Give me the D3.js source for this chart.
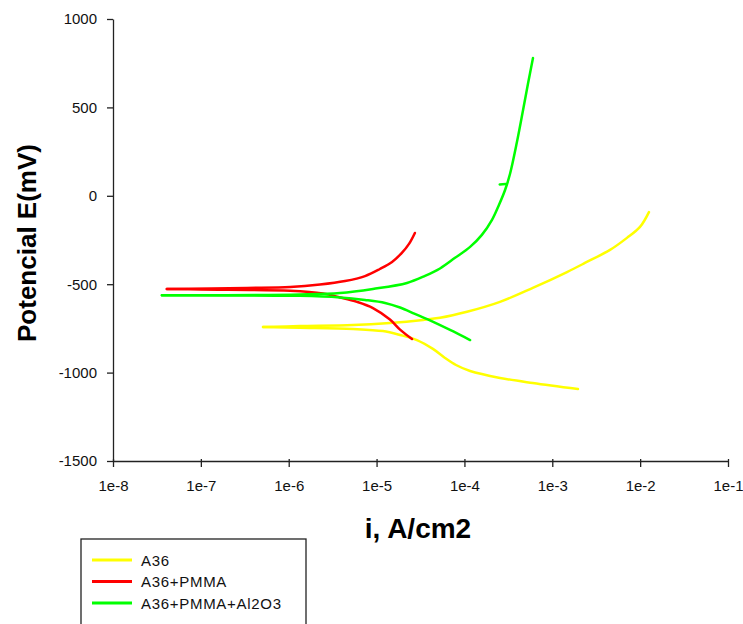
<!DOCTYPE html>
<html>
<head>
<meta charset="utf-8">
<script src="https://cdn.jsdelivr.net/npm/d3@7"></script>
<style>
  html, body { margin: 0; padding: 0; background: #fff; }
  svg { display: block; }
  text { font-family: "Liberation Sans", Arial, sans-serif; }
</style>
</head>
<body>
<svg id="chart" width="743" height="624"></svg>
<script>
// ---- data (current density in A/cm2, potential in mV) ----
const xTicks = [1e-8, 1e-7, 1e-6, 1e-5, 1e-4, 1e-3, 1e-2, 1e-1];
const yTicks = [-1500, -1000, -500, 0, 500, 1000];
const seriesNames = ["A36", "A36+PMMA", "A36+PMMA+Al2O3"];
const seriesColors = ["#ffff00", "#ff0000", "#00ff00"];

// A36 - cathodic and anodic branches (starting at corrosion potential)
const a36CathI = [5.1e-7, 1.34e-6, 5.4e-6, 1.18e-5, 1.85e-5, 2.88e-5, 4.38e-5, 6.01e-5, 8.02e-5, 1.16e-4, 2.54e-4, 6.0e-4, 1.96e-3];
const a36CathE = [-742, -746, -753, -765, -787, -816, -866, -917, -957, -991, -1030, -1059, -1093];
const a36AnodI = [5.1e-7, 1.34e-6, 5.4e-6, 1.42e-5, 3.37e-5, 5.27e-5, 1.07e-4, 2.54e-4, 6.0e-4, 1.47e-3, 2.35e-3, 4.54e-3, 7.08e-3, 9.96e-3, 1.26e-2];
const a36AnodE = [-742, -737, -731, -719, -702, -690, -656, -600, -521, -431, -380, -306, -238, -176, -92];

// A36+PMMA
const pmmaCathI = [4.1e-8, 1.0e-7, 1.04e-6, 2.45e-6, 3.84e-6, 5.98e-6, 9.1e-6, 1.42e-5, 1.85e-5, 2.53e-5];
const pmmaCathE = [-527, -530, -537, -553, -575, -600, -635, -700, -757, -810];
const pmmaAnodI = [4.1e-8, 3.35e-7, 1.04e-6, 2.27e-6, 4.38e-6, 7.38e-6, 1.09e-5, 1.50e-5, 1.94e-5, 2.34e-5, 2.73e-5];
const pmmaAnodE = [-527, -521, -516, -502, -482, -454, -414, -374, -323, -272, -210];

// A36+PMMA+Al2O3
const alCathI = [3.6e-8, 1.34e-6, 3.84e-6, 7.38e-6, 1.25e-5, 1.85e-5, 2.73e-5, 4.05e-5, 6.86e-5, 1.16e-4];
const alCathE = [-563, -566, -575, -589, -606, -632, -668, -705, -759, -816];
const alAnodI = [3.6e-8, 1.34e-6, 3.84e-6, 9.1e-6, 2.22e-5, 3.56e-5, 5.27e-5, 7.82e-5, 1.16e-4, 1.58e-4, 2.06e-4, 2.47e-4, 2.90e-4, 3.30e-4, 3.96e-4, 4.65e-4, 5.28e-4, 6.03e-4];
const alAnodE = [-563, -558, -550, -527, -493, -453, -411, -351, -289, -221, -136, -52, 33, 123, 304, 485, 632, 779];
const alSpurI = [2.95e-4, 2.52e-4];
const alSpurE = [67, 64];

const branches = [
  { s: 0, i: a36CathI, e: a36CathE }, { s: 0, i: a36AnodI, e: a36AnodE },
  { s: 1, i: pmmaCathI, e: pmmaCathE }, { s: 1, i: pmmaAnodI, e: pmmaAnodE },
  { s: 2, i: alCathI, e: alCathE }, { s: 2, i: alAnodI, e: alAnodE }, { s: 2, i: alSpurI, e: alSpurE }
];

// ---- layout ----
const svg = d3.select("#chart");
const plotL = 113, plotR = 728, plotT = 19, plotB = 461;

const x = d3.scaleLog().domain([1e-8, 1e-1]).range([plotL, plotR]);
const y = d3.scaleLinear().domain([-1500, 1000]).range([plotB, plotT]);

// axes
const xAxis = d3.axisBottom(x)
  .tickValues(xTicks)
  .tickFormat(d => "1e" + Math.round(Math.log10(d)))
  .tickSizeInner(6).tickSizeOuter(0).tickPadding(13);
const gx = svg.append("g").attr("transform", `translate(0,${plotB})`).call(xAxis);

const yAxis = d3.axisLeft(y)
  .tickValues(yTicks)
  .tickFormat(d => String(d))
  .tickSizeInner(6).tickSizeOuter(0).tickPadding(10);
const gy = svg.append("g").attr("transform", `translate(${plotL},0)`).call(yAxis);

[gx, gy].forEach(g => {
  g.selectAll("path.domain").attr("stroke", "#222").attr("stroke-width", 1.3);
  g.selectAll(".tick line").attr("stroke", "#222").attr("stroke-width", 1.3);
  g.selectAll(".tick text").attr("fill", "#111").style("font-size", "15px")
    .style("font-family", "'Liberation Sans', Arial, sans-serif");
});
// small inner part of the x ticks
gx.selectAll(".tick").append("line")
  .attr("y1", 0).attr("y2", -2).attr("stroke", "#222").attr("stroke-width", 1.3);

// curves
const line = d3.line()
  .x(d => x(d[0]))
  .y(d => y(d[1]))
  .curve(d3.curveCatmullRom.alpha(0.5));

branches.forEach(b => {
  const pts = b.i.map((v, j) => [v, b.e[j]]);
  svg.append("path")
    .datum(pts)
    .attr("fill", "none")
    .attr("stroke", seriesColors[b.s])
    .attr("stroke-width", 2.5)
    .attr("stroke-linejoin", "round")
    .attr("stroke-linecap", "round")
    .attr("d", line);
});

// axis titles
svg.append("text")
  .attr("transform", `translate(36,243) rotate(-90)`)
  .attr("text-anchor", "middle")
  .style("font-size", "26px").style("font-weight", "bold")
  .attr("fill", "#000")
  .text("Potencial E(mV)");

svg.append("text")
  .attr("x", 418).attr("y", 538)
  .attr("text-anchor", "middle")
  .style("font-size", "28px").style("font-weight", "bold")
  .attr("fill", "#000")
  .text("i, A/cm2");

// legend
const lg = svg.append("g");
lg.append("rect")
  .attr("x", 81).attr("y", 539).attr("width", 225).attr("height", 100)
  .attr("fill", "#fff").attr("stroke", "#222").attr("stroke-width", 1.3);
seriesNames.forEach((name, k) => {
  const cy = 560 + k * 21.5;
  lg.append("line")
    .attr("x1", 92).attr("x2", 132).attr("y1", cy).attr("y2", cy)
    .attr("stroke", seriesColors[k]).attr("stroke-width", 3);
  lg.append("text")
    .attr("x", 141).attr("y", cy + 5.5)
    .style("font-size", "15px").style("letter-spacing", "0.7px")
    .attr("fill", "#111")
    .text(name);
});
</script>
</body>
</html>
